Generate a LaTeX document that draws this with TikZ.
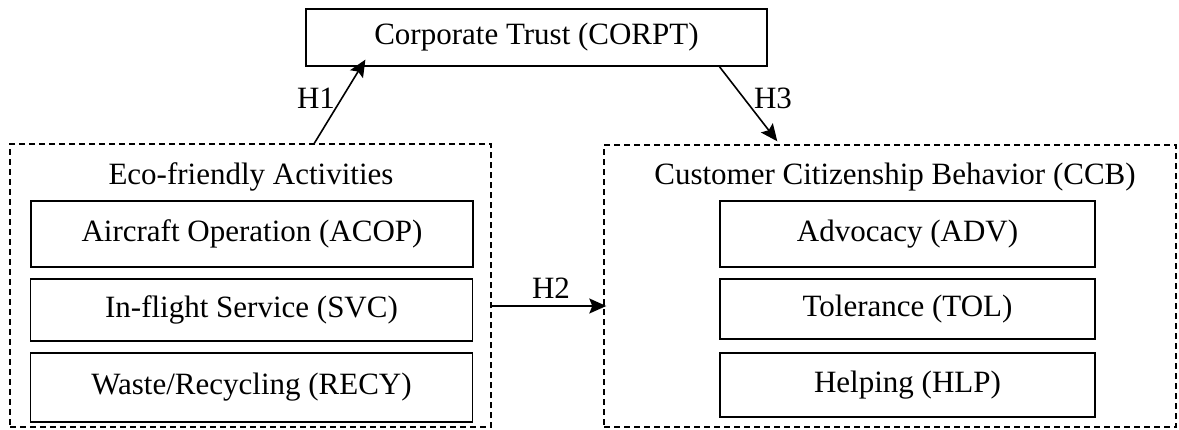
\documentclass[tikz,border=0pt]{standalone}
\usepackage{fontspec}
\setmainfont{Liberation Serif}
\usetikzlibrary{arrows.meta,calc}
\begin{document}
\begin{tikzpicture}[x=0.5pt,y=-0.5pt,
  txt/.style={font=\fontsize{15.5}{18}\selectfont},
  solidbox/.style={draw, line width=0.6pt, inner sep=0pt, txt},
  groupbox/.style={draw, dashed, dash pattern=on 3pt off 2pt, line width=0.7pt, inner sep=0pt},
  link/.style={line width=0.8pt, -{Stealth[length=8.5pt,width=7.5pt,inset=1.5pt]}}]
\useasboundingbox (0,0) rectangle (1179,429);
% top node
\node[solidbox, minimum width=230.5pt, minimum height=28.5pt] (corp) at (536.5,37.5) {Corporate Trust (CORPT)};
% group boxes
\node[groupbox, minimum width=240.5pt, minimum height=141.5pt] (eco) at (250.5,285.5) {};
\node[groupbox, minimum width=286pt, minimum height=141pt] (ccb) at (890,286) {};
\node[txt] (ecot) at (251,177) {Eco-friendly Activities};
\node[txt] (ccbt) at (895,177) {Customer Citizenship Behavior (CCB)};
% left inner
\node[solidbox, minimum width=221pt, minimum height=33pt] (acop) at (252,234) {Aircraft Operation (ACOP)};
\node[solidbox, minimum width=221pt, minimum height=31pt] (svc) at (251.5,310) {In-flight Service (SVC)};
\node[solidbox, minimum width=221pt, minimum height=34.5pt] (recy) at (251.5,387.5) {Waste/Recycling (RECY)};
% right inner
\node[solidbox, minimum width=187.5pt, minimum height=33pt] (adv) at (907.5,234) {Advocacy (ADV)};
\node[solidbox, minimum width=187.5pt, minimum height=30pt] (tol) at (907.5,309) {Tolerance (TOL)};
\node[solidbox, minimum width=187.5pt, minimum height=32pt] (hlp) at (907.5,385) {Helping (HLP)};
% connectors
\coordinate (h1s) at ($(eco.north west)+(305,0)$);
\coordinate (h1e) at ($(corp.south west)+(60,-7)$);
\draw[link] (h1s) -- (h1e);
\coordinate (h3s) at ($(corp.south west)+(414,0)$);
\coordinate (h3e) at ($(ccb.north west)+(174,-3)$);
\draw[link] (h3s) -- (h3e);
\coordinate (h2s) at (eco.east |- 0,306);
\coordinate (h2e) at ($(ccb.west |- 0,306)+(3,0)$);
\draw[link] (h2s) -- (h2e);
\node[txt] (h1) at (316,98) {H1};
\node[txt] (h3) at (773,98) {H3};
\node[txt] (h2) at (551,288) {H2};
\end{tikzpicture}
\end{document}
